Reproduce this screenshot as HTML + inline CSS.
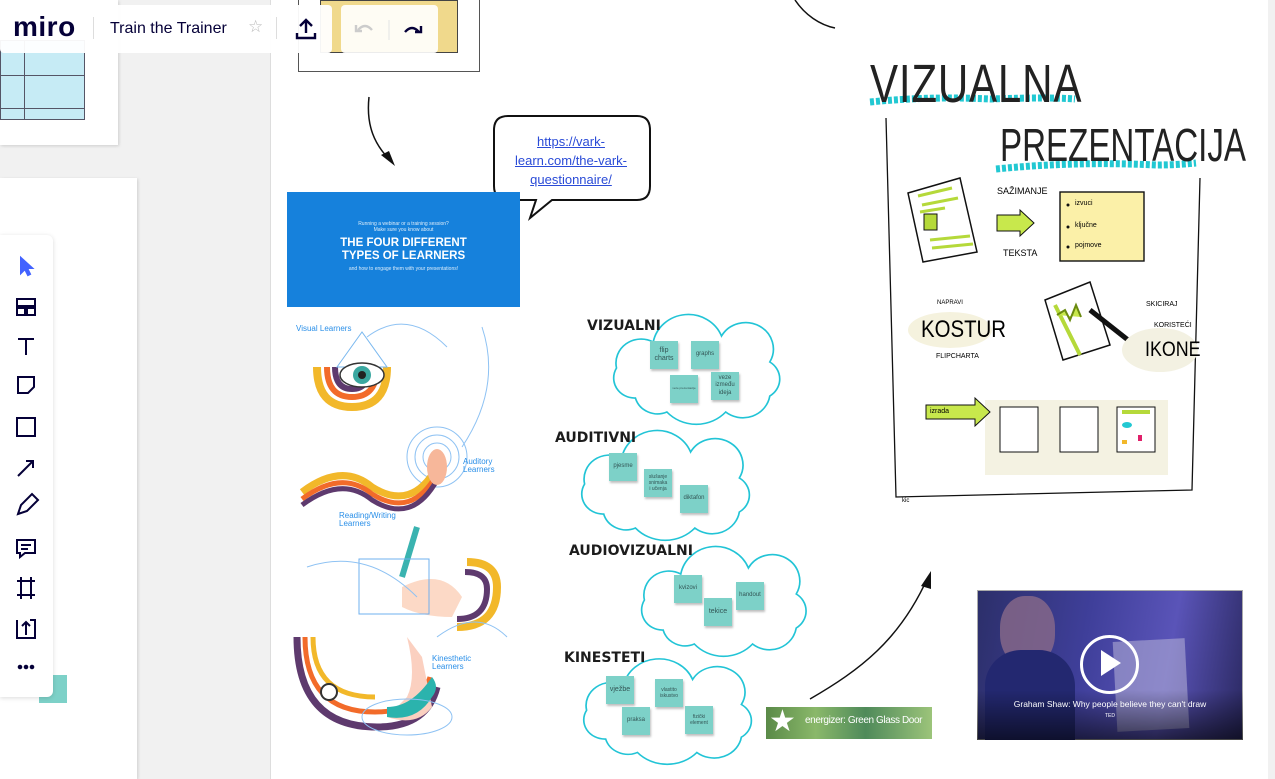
<!DOCTYPE html>
<html><head><meta charset="utf-8"><style>
*{margin:0;padding:0;box-sizing:border-box}
body{width:1275px;height:779px;overflow:hidden;background:#f1f1f1;font-family:"Liberation Sans",sans-serif;position:relative}
.abs{position:absolute}
.st{position:absolute;background:#7dd1c8;box-shadow:1px 2px 2px rgba(0,0,0,.25);font-size:6px;color:#355;text-align:center;display:flex;align-items:center;justify-content:center;line-height:1.2}
.lbl{position:absolute;font-weight:bold;font-size:14px;color:#1c1c1c;font-family:"DejaVu Sans","Liberation Sans",sans-serif}
</style></head><body>
<div class="abs" style="left:270px;top:0;width:998px;height:779px;background:#fff;border-left:1px solid #ddd"></div>
<div class="abs" style="left:0;top:0;width:118px;height:145px;background:#fff;box-shadow:1px 1px 3px rgba(0,0,0,.15)"></div>
<div class="abs" style="left:0;top:40px;width:85px;height:80px;background:#c6ebf5;border:1px solid #556"></div>
<div class="abs" style="left:0;top:75px;width:85px;height:1px;background:#556"></div>
<div class="abs" style="left:0;top:108px;width:85px;height:1px;background:#556"></div>
<div class="abs" style="left:24px;top:40px;width:1px;height:80px;background:#556"></div>
<div class="abs" style="left:0;top:178px;width:137px;height:601px;background:#fff;box-shadow:1px 1px 3px rgba(0,0,0,.15)"></div>
<div class="abs" style="left:39px;top:675px;width:28px;height:28px;background:#7dd1c8"></div>
<div class="abs" style="left:298px;top:0;width:182px;height:72px;border:1px solid #555;border-top:none;background:#fff"></div>
<div class="abs" style="left:320px;top:0;width:138px;height:53px;background:#f0d98c;border:1px solid #444"></div>
<div class="abs" style="left:0;top:5px;width:276px;height:48px;background:rgba(255,255,255,.95);border-radius:4px"></div>
<div class="abs" style="left:13px;top:11px;font-size:28px;font-weight:bold;color:#050038;letter-spacing:.5px">miro</div>
<div class="abs" style="left:93px;top:17px;width:1px;height:22px;background:#ddd"></div>
<div class="abs" style="left:110px;top:20px;font-size:16px;color:#050038">Train the Trainer</div>
<div class="abs" style="left:248px;top:17px;font-size:17px;color:#bbb">☆</div>
<div class="abs" style="left:276px;top:17px;width:1px;height:22px;background:#ddd"></div>
<div class="abs" style="left:282px;top:5px;width:50px;height:48px;background:rgba(255,255,255,.95);border-radius:4px"></div>
<svg class="abs" style="left:294px;top:17px" width="24" height="24"><path d="M12 3v13M6 9l6-6 6 6M3 16v5h18v-5" stroke="#050038" stroke-width="2.4" fill="none"/></svg>
<div class="abs" style="left:341px;top:5px;width:97px;height:48px;background:rgba(255,255,255,.9);border-radius:4px"></div>
<svg class="abs" style="left:352px;top:20px" width="80" height="20"><path d="M6 10 q7-8 14 0" stroke="#ccc" stroke-width="2.4" fill="none"/><path d="M4 5v6h6" stroke="#ccc" stroke-width="2.4" fill="none"/><line x1="37" y1="0" x2="37" y2="20" stroke="#e3e3e3"/><path d="M53 12 q7-8 14 0" stroke="#050038" stroke-width="2.4" fill="none"/><path d="M69 6v6h-6" stroke="#050038" stroke-width="2.4" fill="none"/></svg>
<div class="abs" style="left:0;top:235px;width:53px;height:462px;background:#fff;border-radius:0 6px 6px 0;box-shadow:0 1px 5px rgba(0,0,0,.15)"></div>
<svg class="abs" style="left:12px;top:255px" width="30" height="425" fill="none" stroke="#050038" stroke-width="2">
<path d="M9 3v15l4-4 3 6 2-1-3-6h5z" fill="#4262ff" stroke="#4262ff"/>
<rect x="5" y="44" width="18" height="7"/><rect x="5" y="53" width="8" height="7"/><rect x="15" y="53" width="8" height="7"/>
<path d="M6 84h16M14 84v16"/>
<path d="M6 122h16v10l-6 6h-10z"/>
<rect x="5" y="163" width="18" height="18"/>
<path d="M6 221l15-15M14 206h7v7"/>
<path d="M6 259l3-9 11-11 6 6-11 11z"/>
<path d="M5 285h18v13h-10l-5 4v-4h-3z"/><path d="M9 290h10M9 294h7"/>
<path d="M9 322v22M19 322v22M5 326h18M5 340h18"/>
<path d="M5 365v18h18v-18h-5M14 380v-13M10 371l4-4 4 4"/>
<circle cx="8" cy="412" r="1.3" fill="#050038"/><circle cx="14" cy="412" r="1.3" fill="#050038"/><circle cx="20" cy="412" r="1.3" fill="#050038"/>
</svg>
<svg class="abs" style="left:0;top:0" width="1275" height="779">
<defs><path id="cl" d="M28,74 A20,20 0 0,1 10,44 A24,24 0 0,1 45,18 A34,34 0 0,1 110,12 A26,26 0 0,1 156,38 A20,20 0 0,1 156,72 A26,26 0 0,1 114,88 A38,38 0 0,1 58,88 A22,22 0 0,1 28,74 Z"/></defs>
<g fill="#fff" stroke="#22c4d6" stroke-width="1.6">
<use href="#cl" transform="translate(606,324) scale(1.05,1.0)"/>
<use href="#cl" transform="translate(574,440) scale(1.06,1.0)"/>
<use href="#cl" transform="translate(634,556) scale(1.04,1.0)"/>
<use href="#cl" transform="translate(576,668) scale(1.06,0.96)"/>
</g>
<path d="M369 97 C366 125 374 145 392 162" stroke="#111" stroke-width="1.5" fill="none"/>
<path d="M381 155 L395 166 L389 151 Z" fill="#111"/>
<path d="M795 0 C805 15 820 25 835 28" stroke="#111" stroke-width="1.5" fill="none"/>
<path d="M810 699 C860 670 900 640 928 577" stroke="#111" stroke-width="1.5" fill="none"/>
<path d="M921 586 L931 571 L931 589 Z" fill="#111"/>
<path d="M508 116 H637 Q650 116 650 130 V186 Q650 200 637 200 H552 L530 218 L536 200 H508 Q494 200 494 186 V130 Q494 116 508 116 Z" fill="#fff" stroke="#111" stroke-width="2"/>
<path d="M886 118 L896 497 L1192 490 L1200 178" stroke="#111" stroke-width="1.3" fill="none"/>
<path d="M870 102 q60 -6 120 -3 q60 -2 85 0" stroke="#22c8d2" stroke-width="7" fill="none" stroke-dasharray="4 2"/>
<path d="M996 169 q80 -8 160 -4 q20 0 40 -2" stroke="#22c8d2" stroke-width="7" fill="none" stroke-dasharray="4 2"/>
<path d="M908 193 L960 178 L977 252 L923 262 Z" fill="#fff" stroke="#111" stroke-width="1.5"/>
<path d="M918 196 L952 188 M922 205 L958 198 M920 212 L945 208" stroke="#b5d93a" stroke-width="3"/>
<rect x="924" y="214" width="13" height="16" fill="#b5d93a" stroke="#111"/>
<path d="M930 240 L970 236 M932 248 L973 244" stroke="#b5d93a" stroke-width="3"/>
<path d="M997 215 H1020 V210 L1034 223 L1020 236 V231 H997 Z" fill="#c8e84c" stroke="#111"/>
<rect x="1060" y="192" width="84" height="69" fill="#fbf0a8" stroke="#111" stroke-width="1.4"/>
<circle cx="1068" cy="205" r="1.5" fill="#111"/><circle cx="1068" cy="227" r="1.5" fill="#111"/><circle cx="1068" cy="247" r="1.5" fill="#111"/>
<ellipse cx="950" cy="330" rx="42" ry="18" fill="#f5f2de"/>
<path d="M1045 300 L1090 282 L1110 345 L1063 360 Z" fill="#fff" stroke="#111" stroke-width="1.5"/>
<path d="M1055 305 L1080 355" stroke="#b5d93a" stroke-width="4"/>
<path d="M1057 315 l8 -5 5 10 6 -15 5 12" stroke="#6a8a10" stroke-width="2" fill="#c8e84c"/>
<path d="M1090 310 L1128 340" stroke="#111" stroke-width="5"/>
<ellipse cx="1160" cy="350" rx="38" ry="22" fill="#f3f1e2"/>
<rect x="985" y="400" width="183" height="75" fill="#f4f2e2"/>
<path d="M926 405 H975 V398 L990 412 L975 426 V419 H926 Z" fill="#c8e84c" stroke="#111"/>
<rect x="1000" y="407" width="38" height="45" fill="#fff" stroke="#111"/>
<rect x="1060" y="407" width="38" height="45" fill="#fff" stroke="#111"/>
<rect x="1117" y="407" width="38" height="45" fill="#fff" stroke="#111"/>
<rect x="1122" y="410" width="28" height="4" fill="#b5d93a"/>
<ellipse cx="1127" cy="425" rx="5" ry="3" fill="#22c8d2"/>
<rect x="1122" y="440" width="5" height="4" fill="#f2b82a"/><rect x="1138" y="435" width="4" height="6" fill="#e0206a"/>
</svg>
<div class="abs" style="left:870px;top:56px;font-size:54px;line-height:56px;color:#222;letter-spacing:1px;transform:scaleX(.78);transform-origin:left">VIZUALNA</div>
<div class="abs" style="left:1000px;top:121px;font-size:46px;line-height:48px;color:#222;transform:scaleX(.72);transform-origin:left">PREZENTACIJA</div>
<div class="abs" style="left:997px;top:186px;font-size:9px">SAŽIMANJE</div>
<div class="abs" style="left:1003px;top:248px;font-size:9px">TEKSTA</div>
<div class="abs" style="left:1075px;top:200px;font-size:7px">izvuci</div>
<div class="abs" style="left:1075px;top:222px;font-size:7px">ključne</div>
<div class="abs" style="left:1075px;top:242px;font-size:7px">pojmove</div>
<div class="abs" style="left:937px;top:300px;font-size:6px">NAPRAVI</div>
<div class="abs" style="left:921px;top:316px;font-size:24px;transform:scaleX(.85);transform-origin:left">KOSTUR</div>
<div class="abs" style="left:936px;top:353px;font-size:7px">FLIPCHARTA</div>
<div class="abs" style="left:1146px;top:301px;font-size:7px">SKICIRAJ</div>
<div class="abs" style="left:1154px;top:322px;font-size:7px">KORISTEĆI</div>
<div class="abs" style="left:1145px;top:338px;font-size:21px;transform:scaleX(.85);transform-origin:left">IKONE</div>
<div class="abs" style="left:930px;top:408px;font-size:7px">izrada</div>
<div class="abs" style="left:902px;top:498px;font-size:6px">kic</div>
<div class="abs" style="left:500px;top:132px;width:142px;text-align:center;font-size:13px;line-height:19px;color:#2a4bd7;text-decoration:underline">https://vark-learn.com/the-vark-questionnaire/</div>
<div class="abs" style="left:287px;top:192px;width:233px;height:115px;background:#1681dc;color:#fff;text-align:center">
<div style="font-size:5px;margin-top:29px;opacity:.85">Running a webinar or a training session?<br>Make sure you know about</div>
<div style="font-size:11.5px;font-weight:bold;line-height:13px;margin-top:4px">THE FOUR DIFFERENT<br>TYPES OF LEARNERS</div>
<div style="font-size:5px;margin-top:3px;opacity:.85">and how to engage them with your presentations!</div></div>
<div class="abs" style="left:287px;top:307px;width:233px;height:461px;background:#fff"></div>
<svg class="abs" style="left:287px;top:307px" width="233" height="461" fill="none">
<path d="M30 60 q0 40 35 40 q35 0 35-40" stroke="#f2b82a" stroke-width="8"/>
<path d="M40 60 q0 30 25 30 q25 0 25-30" stroke="#f26b2a" stroke-width="6"/>
<path d="M48 60 q0 22 17 22 q17 0 17-22" stroke="#5e3a6e" stroke-width="6"/>
<path d="M50 60 l25-35 25 35 z" stroke="#7ab8ef"/>
<ellipse cx="75" cy="68" rx="22" ry="12" fill="#fff" stroke="#333" stroke-width="1.5"/>
<circle cx="75" cy="68" r="9" fill="#3aa7a0"/><circle cx="75" cy="68" r="4" fill="#222"/>
<g stroke="#8ec2f3"><circle cx="150" cy="150" r="30"/><circle cx="150" cy="150" r="22"/><circle cx="150" cy="150" r="14"/><path d="M195 20 q20 60 -20 120"/><path d="M80 30 q40 -30 80 10"/></g>
<path d="M15 185 q40 -30 70 -5 q40 25 65 -20" stroke="#f2b82a" stroke-width="7"/>
<path d="M15 192 q40 -30 70 -5 q40 25 65 -20" stroke="#f26b2a" stroke-width="5"/>
<path d="M15 198 q40 -30 70 -5 q40 25 65 -20" stroke="#5e3a6e" stroke-width="5"/>
<ellipse cx="150" cy="160" rx="10" ry="18" fill="#f7b79a"/>
<path d="M170 320 q40 0 40 -40 q0 -25 -30 -25" stroke="#f2b82a" stroke-width="8"/>
<path d="M170 312 q30 0 30 -30 q0 -17 -22 -17" stroke="#5e3a6e" stroke-width="6"/>
<path d="M115 280 q40 -20 60 10 l-10 20 q-30 0 -50 -10z" fill="#fcd9c6"/>
<path d="M130 220 l-15 50" stroke="#3ab3b0" stroke-width="6"/>
<rect x="72" y="252" width="70" height="55" stroke="#6fb0ef"/>
<path d="M20 260 q60 -20 110 30" stroke="#8ec2f3"/>
<path d="M10 330 q0 90 80 90 q50 0 60 -40" stroke="#5e3a6e" stroke-width="7"/>
<path d="M18 330 q0 75 70 75 q45 0 55 -35" stroke="#f26b2a" stroke-width="5"/>
<path d="M26 330 q0 60 62 60" stroke="#f2b82a" stroke-width="5"/>
<path d="M120 330 q10 40 0 60 l-20 20 q30 10 45 -10 l-10 -50z" fill="#fbd0c0"/>
<path d="M100 410 q30 5 45 -20 q8 -10 0 -20 q-20 30 -45 30z" fill="#2bb3ad"/>
<ellipse cx="120" cy="410" rx="45" ry="18" stroke="#8ec2f3"/>
<circle cx="42" cy="385" r="8" fill="#fff" stroke="#333" stroke-width="2"/>
<path d="M150 330 q40 -30 70 0" stroke="#8ec2f3"/>
</svg>
<div class="abs" style="left:296px;top:324px;font-size:8px;color:#2a8fe8">Visual Learners</div>
<div class="abs" style="left:463px;top:458px;font-size:8px;color:#2a8fe8;line-height:8px">Auditory<br>Learners</div>
<div class="abs" style="left:339px;top:512px;font-size:8px;color:#2a8fe8;line-height:8px">Reading/Writing<br>Learners</div>
<div class="abs" style="left:432px;top:655px;font-size:8px;color:#2a8fe8;line-height:8px">Kinesthetic<br>Learners</div>
<div class="lbl" style="left:587px;top:318px">VIZUALNI</div>
<div class="lbl" style="left:555px;top:430px">AUDITIVNI</div>
<div class="lbl" style="left:569px;top:543px">AUDIOVIZUALNI</div>
<div class="lbl" style="left:564px;top:650px">KINESTETI</div>
<div class="st" style="left:650px;top:341px;width:28px;height:28px;font-size:7px">flip<br>charts</div>
<div class="st" style="left:691px;top:341px;width:28px;height:28px">graphs</div>
<div class="st" style="left:670px;top:375px;width:28px;height:28px;font-size:3px">veze prezentacije</div>
<div class="st" style="left:711px;top:372px;width:28px;height:28px">veze<br>između<br>ideja</div>
<div class="st" style="left:609px;top:453px;width:28px;height:28px">pjesme</div>
<div class="st" style="left:644px;top:469px;width:28px;height:28px;font-size:5px">slušanje<br>snimaka<br>i učenja</div>
<div class="st" style="left:680px;top:485px;width:28px;height:28px">diktafon</div>
<div class="st" style="left:674px;top:575px;width:28px;height:28px">kvizovi</div>
<div class="st" style="left:704px;top:598px;width:28px;height:28px;font-size:7px">tekice</div>
<div class="st" style="left:736px;top:582px;width:28px;height:28px">handout</div>
<div class="st" style="left:606px;top:676px;width:28px;height:28px;font-size:7px">vježbe</div>
<div class="st" style="left:655px;top:679px;width:28px;height:28px;font-size:5px">vlastito<br>iskustvo</div>
<div class="st" style="left:622px;top:707px;width:28px;height:28px">praksa</div>
<div class="st" style="left:685px;top:706px;width:28px;height:28px;font-size:5px">fizički<br>element</div>
<div class="abs" style="left:766px;top:707px;width:166px;height:32px;background:linear-gradient(90deg,#5a8a48,#8ab86a 30%,#4f8a5a 60%,#9cc47a);"></div>
<div class="abs" style="left:769px;top:704px;font-size:30px;color:#fff">★</div>
<div class="abs" style="left:805px;top:715px;font-size:10px;color:#fff;letter-spacing:-.4px;white-space:nowrap">energizer: Green Glass Door</div>
<div class="abs" style="left:977px;top:590px;width:266px;height:150px;background:linear-gradient(100deg,#2c2f6a 0%,#3f3f9a 40%,#5a54b8 70%,#2a2860 100%);border:1px solid #aaa"></div>
<div class="abs" style="left:1115px;top:640px;width:72px;height:90px;background:#b8b4d8;opacity:.55;transform:rotate(-3deg)"></div>
<div class="abs" style="left:1000px;top:596px;width:55px;height:70px;border-radius:45%;background:#8a6a8a;opacity:.8"></div>
<div class="abs" style="left:985px;top:650px;width:90px;height:90px;border-radius:40% 40% 0 0;background:#232870"></div>
<div class="abs" style="left:977px;top:690px;width:266px;height:50px;background:linear-gradient(transparent,rgba(0,0,0,.6))"></div>
<div class="abs" style="left:1080px;top:635px;width:59px;height:59px;border:3px solid #fff;border-radius:50%"></div>
<div class="abs" style="left:1101px;top:650px;width:0;height:0;border-left:20px solid #fff;border-top:13px solid transparent;border-bottom:13px solid transparent"></div>
<div class="abs" style="left:977px;top:699px;width:266px;text-align:center;font-size:8.5px;color:#fff">Graham Shaw: Why people believe they can't draw</div>
<div class="abs" style="left:977px;top:713px;width:266px;text-align:center;font-size:5px;color:#fff">TED</div>
</body></html>
